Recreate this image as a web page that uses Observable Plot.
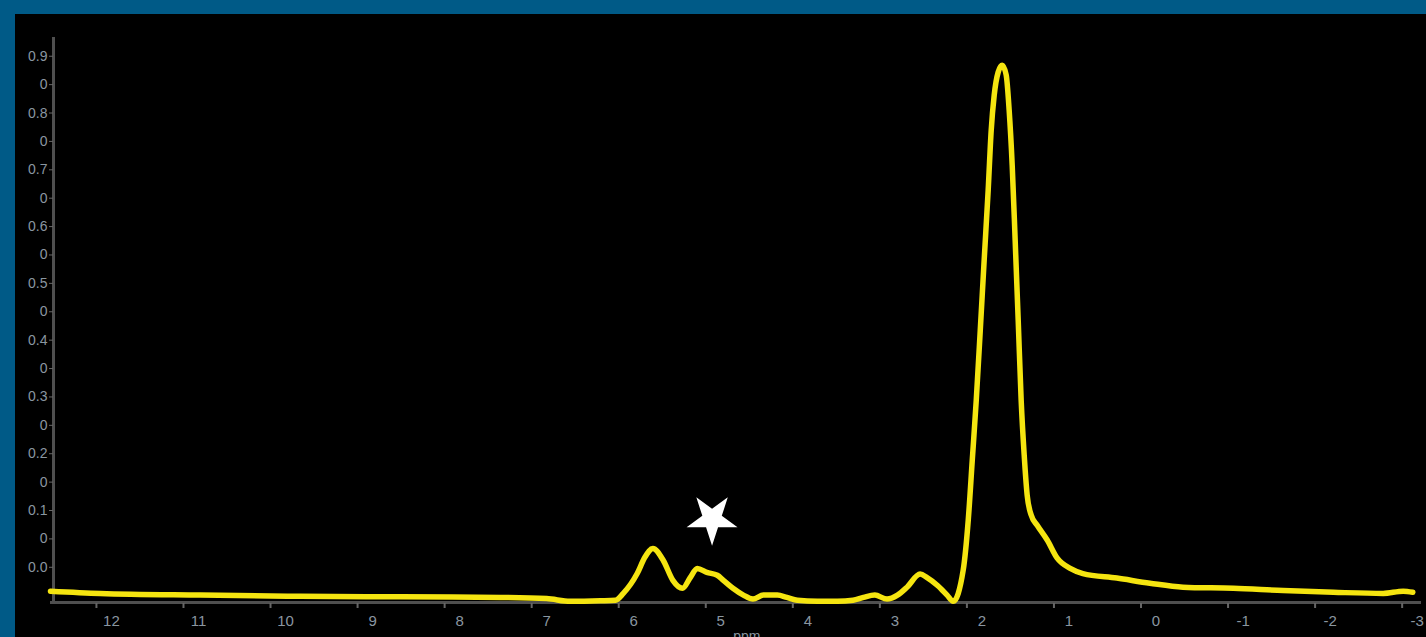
<!DOCTYPE html>
<html>
<head>
<meta charset="utf-8">
<script src="https://cdn.jsdelivr.net/npm/d3@7"></script>
<script src="https://cdn.jsdelivr.net/npm/@observablehq/plot@0.6"></script>
<style>
  html, body { margin: 0; padding: 0; }
  body { width: 1426px; height: 637px; background: #005a87; overflow: hidden; position: relative; font-family: "Liberation Sans", Arial, sans-serif; }
  #panel { position: absolute; left: 15px; top: 14px; width: 1411px; height: 623px; background: #000; overflow: hidden; }
  #panel svg { display: block; }
</style>
</head>
<body>
<div id="panel"></div>
<script>
// Chemical shift (ppm) and intensity
const ppm = [12.70, 12.13, 10.98, 9.83, 8.68, 7.53, 7.00, 6.73, 6.38, 6.21, 6.12, 5.96, 5.87, 5.78, 5.66, 5.55, 5.44, 5.35, 5.27, 5.16, 5.04, 4.97, 4.86, 4.74, 4.63, 4.51, 4.35, 4.24, 4.12, 3.89, 3.66, 3.48, 3.36, 3.23, 3.09, 2.97, 2.86, 2.71, 2.63, 2.51, 2.40, 2.33,
  2.215, 2.157, 2.111, 2.065, 2.019, 1.974, 1.928, 1.893, 1.859, 1.813, 1.767, 1.721, 1.687, 1.652, 1.618, 1.583, 1.549, 1.514, 1.480, 1.434, 1.365, 1.250, 1.135, 0.986,
  0.84, 0.45, 0.07, -0.31, -0.89, -1.46, -2.04, -2.61, -2.84, -2.95];
const intensity = [-0.042, -0.046, -0.049, -0.051, -0.052, -0.053, -0.055, -0.060, -0.059, -0.058, -0.046, -0.011, 0.018, 0.033, 0.012, -0.023, -0.037, -0.018, -0.002, -0.009, -0.014, -0.023, -0.037, -0.049, -0.056, -0.049, -0.049, -0.053, -0.058, -0.060, -0.060, -0.058, -0.053, -0.049, -0.056, -0.049, -0.035, -0.012, -0.018, -0.032, -0.049, -0.060,
  -0.005, 0.083, 0.188, 0.294, 0.417, 0.541, 0.664, 0.770, 0.831, 0.872, 0.884, 0.867, 0.805, 0.708, 0.576, 0.435, 0.294, 0.197, 0.127, 0.092, 0.074, 0.048, 0.016, -0.002,
  -0.011, -0.019, -0.028, -0.035, -0.037, -0.041, -0.044, -0.046, -0.042, -0.044];

// Axis ticks and labels (labels as they appear, truncated)
const xTicks = [12, 11, 10, 9, 8, 7, 6, 5, 4, 3, 2, 1, 0, -1, -2, -3];
const yTickValues = [0, 0.05, 0.1, 0.15, 0.2, 0.25, 0.3, 0.35, 0.4, 0.45, 0.5, 0.55, 0.6, 0.65, 0.7, 0.75, 0.8, 0.85, 0.9];
const yTickLabels = ["0.0", "0", "0.1", "0", "0.2", "0", "0.3", "0", "0.4", "0", "0.5", "0", "0.6", "0", "0.7", "0", "0.8", "0", "0.9"];
const xDomain = [12.7, -3.05];
const yDomain = [-0.062, 0.933];
const xTitle = ["ppm"];

// Star annotation marking the peak of interest
const starX = [5.10];
const starY = [0.085];

const trace = ppm.map((x, i) => ({x, y: intensity[i]}));
const yLabel = new Map(yTickValues.map((v, i) => [v, yTickLabels[i]]));
const axisColor = "#8a96a0";
const lineGrey = "#4f4f4f";

const chart = Plot.plot({
  width: 1411,
  height: 623,
  marginLeft: 35,
  marginRight: 5,
  marginTop: 23,
  marginBottom: 35,
  style: {background: "#000", fontFamily: "'Liberation Sans', Arial, sans-serif"},
  x: {domain: xDomain, axis: null, label: null},
  y: {domain: yDomain, axis: null, label: null},
  marks: [
    Plot.ruleY([yDomain[0]], {stroke: lineGrey, strokeWidth: 3}),
    Plot.ruleX([xDomain[0]], {stroke: lineGrey, strokeWidth: 3, dx: 3}),
    Plot.axisX({ticks: xTicks, label: null, tickSize: 5, tickFormat: () => "", stroke: "#666", strokeWidth: 2, dx: -15, dy: 1}),
    Plot.axisX({ticks: xTicks, label: null, tickSize: 0, tickPadding: 13, tickFormat: d => String(d), fill: axisColor, fontSize: 15}),
    Plot.axisY({ticks: yTickValues, label: null, tickSize: 4, tickPadding: 2, tickFormat: d => yLabel.get(d), fill: axisColor, stroke: "#666", fontSize: 14, dx: 3}),
    Plot.line(trace, {x: "x", y: "y", stroke: "#f5e510", strokeWidth: 5.5, curve: "monotone-x", strokeLinejoin: "round", strokeLinecap: "round"}),
    Plot.dot(starX.map((x, i) => ({x, y: starY[i]})), {x: "x", y: "y", symbol: "star", r: 16, fill: "white", stroke: "none", rotate: 180}),
    Plot.text(xTitle, {frameAnchor: "bottom", dy: 38, fill: axisColor, fontSize: 14, x: () => 4.7})
  ]
});
document.getElementById("panel").appendChild(chart);
</script>
</body>
</html>
